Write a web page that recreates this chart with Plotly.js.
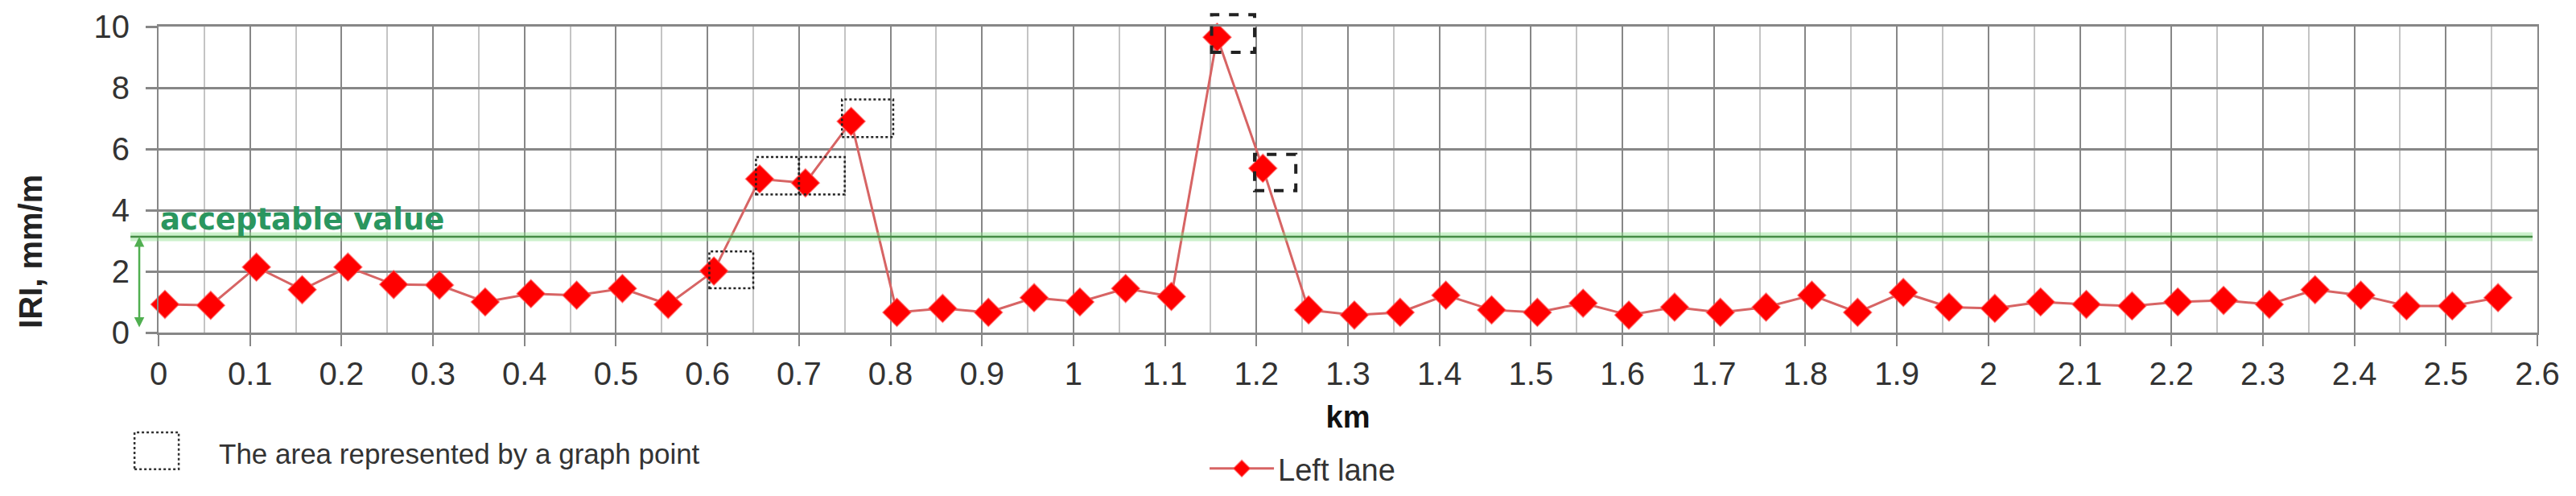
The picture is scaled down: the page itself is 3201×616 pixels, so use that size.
<!DOCTYPE html>
<html>
<head>
<meta charset="utf-8">
<script src="https://cdn.plot.ly/plotly-3.0.1.min.js"></script>
<style>html,body{margin:0;padding:0;background:#fff;}#chart{width:3201px;height:616px;}</style>
</head>
<body>
<div id="chart"></div>
<script>
// ---- data ----
const km = [0.007, 0.057, 0.107, 0.157, 0.207, 0.257, 0.307, 0.357, 0.407, 0.457,
            0.507, 0.557, 0.607, 0.657, 0.707, 0.757, 0.807, 0.857, 0.907, 0.957,
            1.007, 1.057, 1.107, 1.157, 1.207, 1.257, 1.307, 1.357, 1.407, 1.457,
            1.507, 1.557, 1.607, 1.657, 1.707, 1.757, 1.807, 1.857, 1.907, 1.957,
            2.007, 2.057, 2.107, 2.157, 2.207, 2.257, 2.307, 2.357, 2.407, 2.457,
            2.507, 2.557];
const iriLeft = [0.92, 0.89, 2.14, 1.40, 2.14, 1.57, 1.55, 1.00, 1.27, 1.22,
                 1.44, 0.92, 2.01, 5.02, 4.89, 6.90, 0.66, 0.79, 0.66, 1.14,
                 1.00, 1.44, 1.18, 9.65, 5.37, 0.74, 0.57, 0.66, 1.22, 0.74,
                 0.66, 0.96, 0.57, 0.83, 0.66, 0.83, 1.22, 0.66, 1.31, 0.83,
                 0.79, 1.00, 0.92, 0.87, 1.00, 1.05, 0.92, 1.40, 1.22, 0.87,
                 0.87, 1.14];
const acceptableValue = 3.13;
const acceptableLabel = "acceptable value";
const seriesName = "Left lane";
const xTitle = "km";
const yTitle = "IRI, mm/m";
const areaNote = "The area represented by a graph point";
// areas represented by a graph point (km start/end, IRI low/high)
const areaStart = [0.602, 0.653, 0.700, 0.747, 1.151, 1.198];
const areaEnd   = [0.650, 0.700, 0.750, 0.803, 1.198, 1.243];
const areaLow   = [1.45, 4.51, 4.51, 6.39, 9.16, 4.64];
const areaHigh  = [2.65, 5.74, 5.74, 7.62, 10.39, 5.82];

// ---- styling / layout ----
const X_RANGE = [0, 2.6];
const Y_RANGE = [0, 10];
const areaBold = [false, false, false, false, true, true];
const FONT = "Liberation Sans, Arial, sans-serif";
const gridCol = "#878787";

function yToPaper(v){ return (v - Y_RANGE[0]) / (Y_RANGE[1] - Y_RANGE[0]); }

const shapes = [];
// acceptable value line: glow + core
shapes.push({type:'line', xref:'paper', yref:'y', x0:-0.0118, x1:0.998, y0:acceptableValue, y1:acceptableValue,
             line:{color:'rgba(140,225,140,0.45)', width:11}, layer:'above'});
shapes.push({type:'line', xref:'paper', yref:'y', x0:-0.0118, x1:0.998, y0:acceptableValue, y1:acceptableValue,
             line:{color:'rgb(70,140,70)', width:2.5}, layer:'above'});
// dashed area boxes
for (let i = 0; i < areaStart.length; i++) {
  shapes.push({type:'rect', xref:'x', yref:'paper',
               x0:areaStart[i], x1:areaEnd[i], y0:yToPaper(areaLow[i]), y1:yToPaper(areaHigh[i]),
               line:{color:'#222', width: areaBold[i] ? 4 : 2.5, dash: areaBold[i] ? 'dash' : 'dot'},
               fillcolor:'rgba(0,0,0,0)', layer:'above'});
}
// legend-note dotted box
shapes.push({type:'rect', xref:'paper', yref:'paper', x0:-0.0101, x1:0.0085, y0:-0.447, y1:-0.326,
             line:{color:'#333', width:2.5, dash:'dot'}, fillcolor:'rgba(0,0,0,0)'});

const annotations = [
  {xref:'x', yref:'y', x:0, y:acceptableValue, xanchor:'left', yanchor:'bottom', yshift:-2,
   text:'<b>' + acceptableLabel + '</b>', showarrow:false,
   font:{family:'DejaVu Sans, sans-serif', size:37, color:'rgb(42,150,95)'}},
  {xref:'paper', yref:'y', x:-0.0081, y:acceptableValue, axref:'pixel', ax:0, ayref:'y', ay:0.13,
   text:'', showarrow:true, arrowside:'end+start', arrowhead:2, arrowsize:1, arrowwidth:2.5,
   arrowcolor:'rgb(80,175,80)', standoff:0, startstandoff:0},
  {xref:'paper', yref:'y', x:-0.0538, y:2.66, xanchor:'center', yanchor:'middle', textangle:-90, showarrow:false,
   text:'<b>' + yTitle + '</b>', font:{family:FONT, size:40, color:'#222'}},
  {xref:'paper', yref:'paper', x:0.0247, y:-0.397, xanchor:'left', yanchor:'middle', showarrow:false,
   text:areaNote, font:{family:FONT, size:35, color:'#333'}}
];

const trace = {
  x: km, y: iriLeft, type:'scatter', mode:'lines+markers', name: seriesName,
  line:{color:'rgb(215,100,100)', width:3},
  marker:{symbol:'diamond', size:27, color:'#ff0000', line:{color:'rgba(255,90,90,0.6)', width:1.5}},
  cliponaxis:false
};

const layout = {
  width:3201, height:616,
  margin:{l:197, r:48, t:33, b:203, autoexpand:false},
  paper_bgcolor:'#fff', plot_bgcolor:'#fff',
  font:{family:FONT, color:'#333'},
  showlegend:true,
  legend:{xref:'container', yref:'container', x:0.468, xanchor:'left', y:0.055, yanchor:'middle',
          orientation:'h', itemwidth:80, font:{family:FONT, size:38, color:'#333'}, bgcolor:'rgba(0,0,0,0)'},
  xaxis:{range:X_RANGE, dtick:0.1, tick0:0, showgrid:true, gridcolor:gridCol, gridwidth:2,
         minor:{dtick:0.05, showgrid:true, gridcolor:'#c4c4c4', gridwidth:2},
         ticks:'outside', ticklen:14, tickwidth:2, tickcolor:gridCol,
         showline:true, mirror:true, linecolor:gridCol, linewidth:3, zeroline:false,
         tickfont:{family:FONT, size:40, color:'#333'}, ticklabelstandoff:0,
         title:{text:'<b>' + xTitle + '</b>', font:{family:FONT, size:38, color:'#111'}, standoff:20}},
  yaxis:{range:Y_RANGE, dtick:2, tick0:0, showgrid:true, gridcolor:gridCol, gridwidth:3,
         ticks:'outside', ticklen:14, tickwidth:3, tickcolor:gridCol,
         showline:true, mirror:true, linecolor:gridCol, linewidth:2, zeroline:false,
         tickfont:{family:FONT, size:40, color:'#333'}, ticklabelstandoff:12},
  shapes: shapes,
  annotations: annotations
};

Plotly.newPlot('chart', [trace], layout, {displayModeBar:false, staticPlot:true});
</script>
</body>
</html>
